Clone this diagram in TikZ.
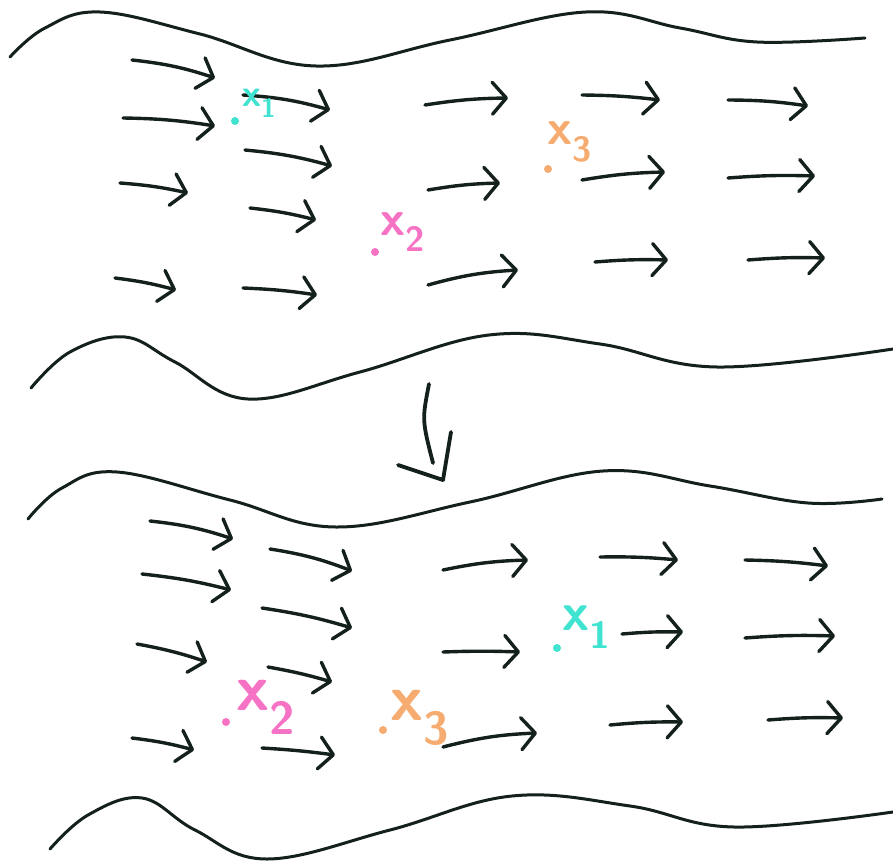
\documentclass[tikz,border=0pt]{standalone}
\usepackage{fontspec}
\usepackage{tikz}
\usetikzlibrary{arrows.meta}

\definecolor{ink}{RGB}{20,32,28}
\definecolor{tealx}{RGB}{64,226,208}
\definecolor{pinkx}{RGB}{246,114,196}
\definecolor{orangex}{RGB}{246,172,112}

\begin{document}
\begin{tikzpicture}[
  x=1pt, y=-1pt,
  wave/.style  ={draw=ink, line width=3pt, line cap=round},
  flow/.style  ={draw=ink, line width=3.4pt, line cap=round, line join=round,
                 -{Straight Barb[length=14pt,width=32pt,round]}},
  dot/.style   ={circle, inner sep=0pt, minimum size=8pt},
  lbl/.style   ={anchor=base west, inner sep=0pt},
]
\useasboundingbox (0,0) rectangle (893,861);

% Stream banks, top picture
\draw[wave] plot[smooth, tension=0.65] coordinates
  {(10,57) (45,28) (100,12) (200,34) (316,66) (450,40) (586,12) (680,28) (757,42) (865,38)};
\draw[wave] plot[smooth, tension=0.65] coordinates
  {(31,388) (70,352) (125,337) (175,362) (248,399) (360,372) (489,335) (600,344) (717,367) (893,349)};

% Stream banks, bottom picture
\draw[wave] plot[smooth, tension=0.65] coordinates
  {(28,519) (62,488) (117,472) (230,500) (336,527) (470,502) (603,471) (710,486) (808,503) (882,499)};
\draw[wave] plot[smooth, tension=0.65] coordinates
  {(50,849) (88,815) (142,798) (195,830) (267,859) (390,830) (512,796) (630,806) (734,827) (893,812)};

% Flow arrows, top picture
\draw[flow] (132,60)  to[bend left=6] (215,78);
\draw[flow] (123,118) to[bend left=4] (215,126);
\draw[flow] (243,95)  to[bend left=6] (330,110);
\draw[flow] (245,150) to[bend left=5] (332,166);
\draw[flow] (120,183) to[bend left=4] (188,193);
\draw[flow] (250,208) to[bend left=4] (316,220);
\draw[flow] (115,278) to[bend left=4] (176,290);
\draw[flow] (243,288) to[bend left=3] (317,295);
\draw[flow] (425,105) to[bend left=4] (508,98);
\draw[flow] (428,190) to[bend left=4] (500,183);
\draw[flow] (428,285) to[bend left=6] (518,270);
\draw[flow] (582,95)  to[bend left=3] (660,100);
\draw[flow] (582,180) to[bend left=4] (665,172);
\draw[flow] (595,262) to[bend left=3] (668,260);
\draw[flow] (728,100) to[bend left=4] (808,106);
\draw[flow] (728,178) to[bend left=3] (815,176);
\draw[flow] (748,260) to[bend left=3] (825,258);

% Particles, top picture
\node[dot, fill=tealx]   (pa) at (235,121) {};
\node[lbl, text=tealx, font=\sffamily\bfseries\fontsize{38}{38}\selectfont]   (xa) at (242,107) {x\textsubscript{1}};
\node[dot, fill=pinkx]   (pb) at (375,252) {};
\node[lbl, text=pinkx, font=\sffamily\bfseries\fontsize{50}{50}\selectfont]   (xb) at (380,235) {x\textsubscript{2}};
\node[dot, fill=orangex] (pc) at (548,169) {};
\node[lbl, text=orangex, font=\sffamily\bfseries\fontsize{50}{50}\selectfont] (xc) at (547,145) {x\textsubscript{3}};

% Time step
\draw[ink, line width=3.8pt, line cap=round] (429,384) .. controls (422,420) .. (433,463);
\draw[ink, line width=3.8pt, line cap=round, line join=round] (398,465) -- (443,480) -- (451,432);

% Flow arrows, bottom picture
\draw[flow] (150,521) to[bend left=6] (233,539);
\draw[flow] (142,574) to[bend left=4] (231,590);
\draw[flow] (137,644) to[bend left=4] (207,662);
\draw[flow] (132,738) to[bend left=4] (194,750);
\draw[flow] (270,549) to[bend left=6] (352,571);
\draw[flow] (262,608) to[bend left=4] (352,628);
\draw[flow] (268,667) to[bend left=3] (332,682);
\draw[flow] (262,748) to[bend left=2] (335,755);
\draw[flow] (443,570) to[bend left=5] (528,560);
\draw[flow] (443,652) to[bend left=2] (520,652);
\draw[flow] (443,747) to[bend left=6] (537,733);
\draw[flow] (600,557) to[bend left=3] (678,560);
\draw[flow] (622,634) to[bend left=3] (683,632);
\draw[flow] (610,725) to[bend left=3] (683,722);
\draw[flow] (745,560) to[bend left=3] (828,566);
\draw[flow] (745,638) to[bend left=3] (835,636);
\draw[flow] (768,720) to[bend left=3] (843,718);

% Particles, bottom picture
\node[dot, fill=tealx]   (qa) at (557,648) {};
\node[lbl, text=tealx, font=\sffamily\bfseries\fontsize{54}{54}\selectfont]   (ya) at (562,630) {x\textsubscript{1}};
\node[dot, fill=pinkx]   (qb) at (226,722) {};
\node[lbl, text=pinkx, font=\sffamily\bfseries\fontsize{66}{66}\selectfont]   (yb) at (236,710) {x\textsubscript{2}};
\node[dot, fill=orangex] (qc) at (383,730) {};
\node[lbl, text=orangex, font=\sffamily\bfseries\fontsize{66}{66}\selectfont] (yc) at (390,720) {x\textsubscript{3}};

\end{tikzpicture}
\end{document}
